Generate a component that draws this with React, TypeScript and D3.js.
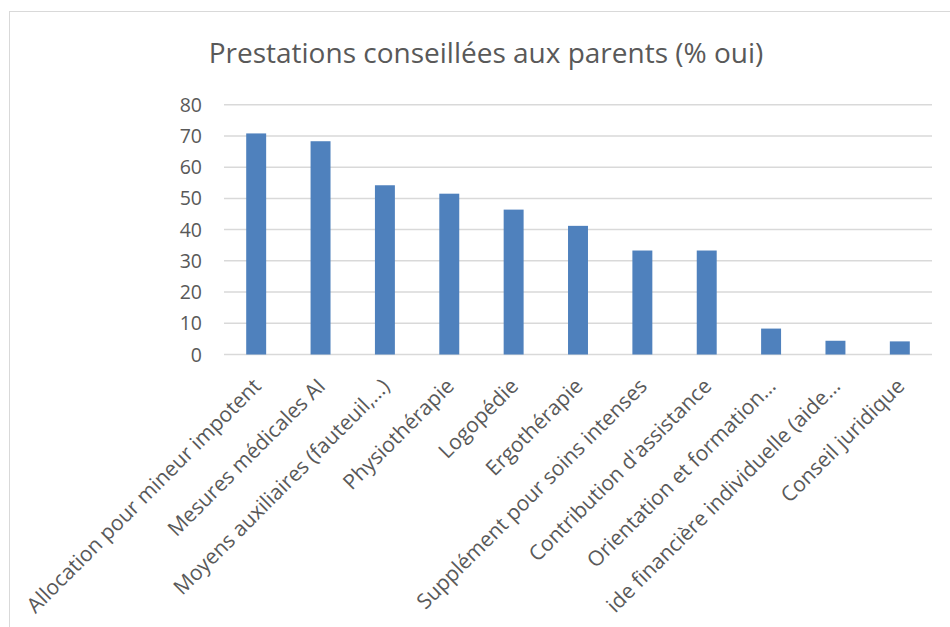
import React from "react";
import * as d3 from "d3";

const categories = [
  "Allocation pour mineur impotent",
  "Mesures médicales AI",
  "Moyens auxiliaires (fauteuil,…)",
  "Physiothérapie",
  "Logopédie",
  "Ergothérapie",
  "Supplément pour soins intenses",
  "Contribution d'assistance",
  "Orientation et formation…",
  "ide financière individuelle (aide…",
  "Conseil juridique",
];

const values = [70.8, 68.3, 54.2, 51.5, 46.4, 41.2, 33.3, 33.3, 8.3, 4.4, 4.2];

const yTicks = [0, 10, 20, 30, 40, 50, 60, 70, 80];

const title = "Prestations conseillées aux parents (% oui)";

const W = 950;
const H = 627;
const plot = { left: 224, right: 932, top: 104.7, bottom: 354.5 };
const FONT = "'Open Sans', sans-serif";
const TEXT = "#595959";

export default function App() {
  const x = d3
    .scaleBand<string>()
    .domain(categories)
    .range([plot.left, plot.right])
    .paddingInner(0.69)
    .paddingOuter(0.345);
  const band = d3.scaleBand<string>().domain(categories).range([plot.left, plot.right]);
  const y = d3.scaleLinear().domain([0, 80]).range([plot.bottom, plot.top]);

  return (
    <svg
      width={W}
      height={H}
      style={{ position: "absolute", left: 0, top: 0, background: "#fff" }}
      fontFamily={FONT}
    >
      <rect x={9.5} y={11.5} width={W + 10} height={H + 10} fill="#fff" stroke="#D9D9D9" strokeWidth={1} />
      <text x={486} y={63} textAnchor="middle" fontSize={28} fill={TEXT}>
        {title}
      </text>
      {yTicks.map((t) => (
        <g key={t}>
          <line x1={plot.left} x2={plot.right} y1={y(t)} y2={y(t)} stroke="#D9D9D9" strokeWidth={1.5} />
          <text x={202} y={y(t)} dy="0.36em" textAnchor="end" fontSize={19.5} fill={TEXT}>
            {t}
          </text>
        </g>
      ))}
      {categories.map((c, i) => (
        <rect
          key={c}
          x={x(c)}
          y={y(values[i])}
          width={x.bandwidth()}
          height={y(0) - y(values[i])}
          fill="#4F81BD"
        />
      ))}
      {categories.map((c) => {
        const cx = (band(c) as number) + band.bandwidth() / 2;
        return (
          <text
            key={c}
            transform={`translate(${cx + 6},${plot.bottom + 33}) rotate(-45)`}
            textAnchor="end"
            fontSize={21}
            fill={TEXT}
          >
            {c}
          </text>
        );
      })}
    </svg>
  );
}
